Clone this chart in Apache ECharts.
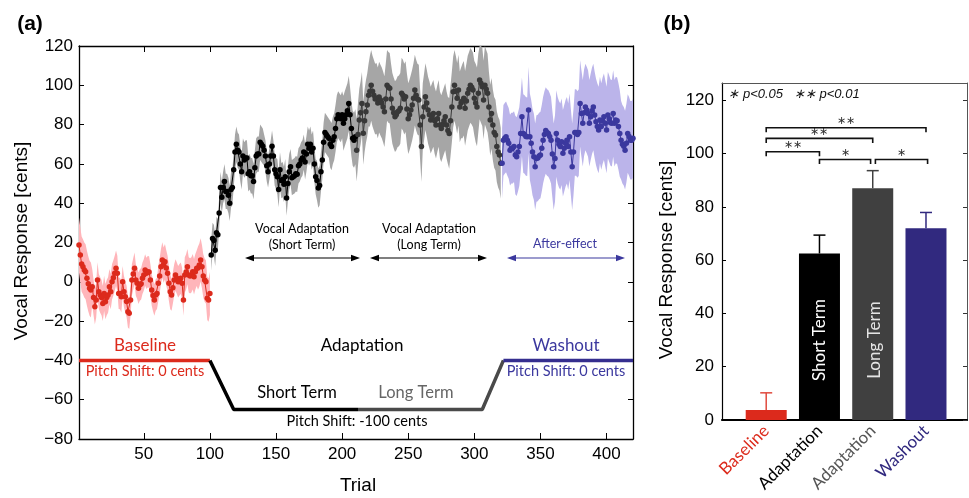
<!doctype html>
<html>
<head>
<meta charset="utf-8">
<title>Vocal adaptation</title>
<script src="https://cdn.jsdelivr.net/npm/echarts@6/dist/echarts.min.js"></script>
<style>
  html, body { margin: 0; padding: 0; background: #fff; }
  #main { width: 969px; height: 498px; }
</style>
</head>
<body>
<div id="main"></div>
<script type="text/javascript">
// panel (a): mean vocal response per trial, by phase
var baseline = [18.7, 13.6, 9, 7.7, 6, 5.1, 1.8, -1, -3.3, -4.2,
  -2.5, -8, -12.7, -9.3, 0.9, -5, -6.7, -8, -11, -5.9,
  -10.1, -8, -6.7, -2.5, -5, 0, 2, 4.3, 6.9, 4.3,
  -5.9, -6, -7.6, 0, -5, -7.6, -10, -15.2, -16, -9.3,
  0.9, 4, 6.9, 0.9, -0.8, -3.3, -1.6, -1, 1.8, 3.5,
  6, 4.3, 5.1, 5, 0.9, -4.2, -7, -9.3, -6.7, -5.9,
  -0.8, 3, 7.7, 11.1, 8.5, 10.2, 7, 4.3, -0.8, -5,
  -6.7, -3, 0.9, 3.5, 1.8, 0, 1, 1.8, -0.8, -9.3,
  3.5, 5, 7.7, 3.5, 3, 3.5, 5.1, 2.6, 5.1, 6.9,
  7, 8.5, 11.1, 7.7, 3, 0.9, 0, -8.4, -9.3, -5.9];
var shortTerm = [13.6, 22, 21, 16, 25, 24, 35, 48, 43, 48,
  51, 46, 46, 44, 40, 47, 48, 57, 66, 70,
  67, 66, 60, 56, 64, 62, 63, 63, 55, 56,
  54, 54, 51, 58, 64, 65, 65, 71, 70, 69,
  67, 64, 59, 56, 60, 64, 69, 64, 57, 55,
  53.5, 47, 57, 51.5, 52, 49.6, 53.5, 42.6, 50, 56,
  58.6, 53, 53.5, 54, 55, 54.7, 59, 60, 62, 63,
  66, 61, 65, 70, 68, 70, 66, 68, 60, 53.5,
  51.5, 47.7, 49, 56, 62, 71, 76, 75, 74, 73,
  70, 68.8, 72, 73.8, 78, 83, 85, 84, 83, 85,
  80.7, 83, 85, 87, 90.8, 85, 78, 73, 72, 73.8];
var longTerm = [67, 75, 82.3, 86, 90.8, 75.6, 82, 86.6, 90, 95,
  97, 100, 97, 95, 93, 93.4, 91, 94, 92.5, 91,
  89, 86.6, 93, 100, 99, 98.5, 93, 88.3, 86, 84,
  85, 86.6, 87, 88.3, 96, 95, 93, 94.2, 88, 83,
  85, 87.4, 90, 93.4, 97.6, 95, 93, 92.5, 79.8, 68.8,
  84, 89, 94.2, 91, 87.4, 85, 82.3, 84, 85.7, 82,
  79.8, 83, 85.7, 79.8, 78, 80, 82, 84, 79.8, 77,
  75.5, 82, 89, 96.7, 100, 97, 93.4, 97.6, 89, 91,
  92, 93.4, 88.3, 92, 96, 98, 100, 99, 97.6, 93.4,
  91, 89, 96, 102.7, 101, 99.3, 92.5, 100, 98, 96,
  89, 82.3, 85.7, 79.8, 76, 74.7, 68.8, 66, 64.5, 60.3];
var washout = [60.3, 72, 73, 73.8, 72, 70.5, 67, 68, 68, 68.8,
  64.5, 63.7, 66, 68.8, 75.5, 84, 75.5, 75, 74, 73.8,
  87.4, 73.8, 70.5, 66, 63.7, 58.6, 62.8, 63, 64, 64.5,
  68, 72, 75, 77, 76, 75.5, 74, 72, 65, 58.6,
  62.8, 75.5, 72, 70, 68.8, 71.3, 65.4, 68, 70.5, 72,
  68.8, 73.8, 66, 58.6, 66, 76, 76, 75, 76, 90.8,
  85.7, 80.7, 86, 89, 87.4, 85.7, 80.7, 84, 87, 89,
  84.9, 81.5, 79, 77.2, 82.3, 79, 82, 84, 80.7, 77.2,
  84.9, 83, 81, 80.7, 85.7, 80.7, 82.3, 82, 79, 75.5,
  72, 70, 69, 67, 70.5, 75.5, 74, 72, 72, 73];
// half width of the shaded band, one value per block of 10 trials
var spread = [14, 9, 9, 8, 8, 8, 9, 8, 9, 11,
  8, 9, 9, 9, 8, 9, 9, 9, 10, 12, 14,
  16, 18, 18, 18, 18, 17, 17, 18, 19, 20, 18,
  18, 20, 22, 22, 22, 22, 22, 22, 22, 20];
// pitch shift schematic
var shiftTrials = [1, 100, 118, 212, 306, 322, 420];
var shiftValues = [-40, -40, -65, -65, -65, -40, -40];
var xTicks = [50, 100, 150, 200, 250, 300, 350, 400];

// panel (b)
var barNames = ['Baseline', 'Adaptation', 'Adaptation', 'Washout'];
var barMeans = [3.8, 62.5, 87, 72];
var barTops = [10.2, 69.4, 93.6, 77.9];
var barColors = ['#dc2a1c', '#000000', '#404040', '#31297f'];
var labelColors = ['#dc2a1c', '#000000', '#555555', '#31297f'];
var brFrom = [1, 2, 3.05, 1, 1];
var brTo = [2, 2.96, 4.03, 3, 4];
var brY = [100.7, 97.8, 97.8, 105.7, 109.7];
var brStars = ['\u2217\u2217', '\u2217', '\u2217', '\u2217\u2217', '\u2217\u2217'];

var RED = '#dc2a1c', BLUE = '#3b389e';
var helv = 'Liberation Sans, Arial, sans-serif';
var myr = 'Lato, Open Sans, sans-serif';

function pairs(start, vals) {
  return vals.map(function (v, i) { return [start + i, v]; });
}
var adaptation = shortTerm.concat(longTerm);
var bands = [
  { start: 1, vals: baseline, color: '#ffb5ba' },
  { start: 101, vals: adaptation, color: '#a6a6a6' },
  { start: 321, vals: washout, color: '#bbb4ea' }
];
function shiftPart(a, b) {
  var out = [];
  for (var i = a; i <= b; i++) out.push([shiftTrials[i], shiftValues[i]]);
  return out;
}

var myChart = echarts.init(document.getElementById('main'));

function arrow(x1, x2, y, color) {
  return [
    { type: 'line', shape: { x1: x1 + 4, y1: y, x2: x2 - 4, y2: y }, style: { stroke: color, lineWidth: 1.2 } },
    { type: 'polygon', shape: { points: [[x1, y], [x1 + 9, y - 3.2], [x1 + 9, y + 3.2]] }, style: { fill: color } },
    { type: 'polygon', shape: { points: [[x2, y], [x2 - 9, y - 3.2], [x2 - 9, y + 3.2]] }, style: { fill: color } }
  ];
}
function txt(x, y, s, size, color, extra) {
  var st = { text: s, x: x, y: y, fill: color, fontSize: size, fontFamily: myr, align: 'center', verticalAlign: 'middle' };
  for (var k in extra) st[k] = extra[k];
  return { type: 'text', z: 50, style: st };
}

var graphics = [
  txt(30, 24, '(a)', 21, '#000', { fontFamily: helv, fontWeight: 'bold' }),
  txt(677, 24, '(b)', 21, '#000', { fontFamily: helv, fontWeight: 'bold' }),
  { type: 'text', x: 22, y: 241, rotation: Math.PI / 2,
    style: { text: 'Vocal Response [cents]', fill: '#000', fontSize: 19, fontFamily: helv, align: 'center', verticalAlign: 'middle' } },
  { type: 'text', x: 667, y: 260, rotation: Math.PI / 2,
    style: { text: 'Vocal Response [cents]', fill: '#000', fontSize: 19, fontFamily: helv, align: 'center', verticalAlign: 'middle' } },
  txt(358, 486, 'Trial', 19, '#000', { fontFamily: helv }),
  txt(145, 346, 'Baseline', 17, RED),
  txt(145, 371, 'Pitch Shift: 0 cents', 14.5, RED),
  txt(362, 346, 'Adaptation', 17, '#000'),
  txt(297, 393, 'Short Term', 16.5, '#000'),
  txt(416, 393, 'Long Term', 16.5, '#666'),
  txt(357, 421, 'Pitch Shift: -100 cents', 14.5, '#000'),
  txt(566, 346, 'Washout', 17, BLUE),
  txt(566, 371, 'Pitch Shift: 0 cents', 14.5, BLUE),
  txt(302, 229, 'Vocal Adaptation', 12.5, '#000'),
  txt(302, 245, '(Short Term)', 12.5, '#000'),
  txt(429, 229, 'Vocal Adaptation', 12.5, '#000'),
  txt(429, 245, '(Long Term)', 12.5, '#000'),
  txt(565, 244, 'After-effect', 12.5, BLUE),
  txt(794, 94, '\u2217 p<0.05   \u2217\u2217 p<0.01', 13, '#111', { fontFamily: helv, fontStyle: 'italic' }),
  { type: 'text', x: 820, y: 340, rotation: Math.PI / 2, z: 50,
    style: { text: 'Short Term', fill: '#fff', fontSize: 17, fontFamily: myr, align: 'center', verticalAlign: 'middle' } },
  { type: 'text', x: 874.5, y: 340, rotation: Math.PI / 2, z: 50,
    style: { text: 'Long Term', fill: '#e4e4e4', fontSize: 17, fontFamily: myr, align: 'center', verticalAlign: 'middle' } }
].concat(arrow(245, 360, 258, '#000'), arrow(370, 487, 258, '#000'), arrow(507, 625, 258, BLUE));

function frameAxis(grid, pos, type, extra) {
  var a = {
    gridIndex: grid, type: 'value', position: pos,
    axisLine: { show: true, onZero: false, lineStyle: { color: '#000', width: 1.3 } },
    axisTick: { show: true, inside: true, length: 5, lineStyle: { color: '#000', width: 1 } },
    axisLabel: { show: false },
    splitLine: { show: false }
  };
  for (var k in extra) a[k] = extra[k];
  return a;
}

var lineBase = { type: 'line', xAxisIndex: 0, yAxisIndex: 0, symbol: 'circle', symbolSize: 5.5,
  lineStyle: { width: 1 }, silent: true, z: 3 };
function lineSeries(start, vals, color) {
  var s = {};
  for (var k in lineBase) s[k] = lineBase[k];
  s.data = pairs(start, vals);
  s.itemStyle = { color: color };
  s.lineStyle = { width: 1, color: color };
  return s;
}
function shiftSeries(a, b, color) {
  return { type: 'line', xAxisIndex: 0, yAxisIndex: 0, data: shiftPart(a, b), showSymbol: false,
    lineStyle: { width: 3.5, color: color }, silent: true, z: 4 };
}

option = {
  animation: false,
  backgroundColor: '#fff',
  grid: [
    { left: 79, top: 46, width: 554, height: 393 },
    { left: 722, top: 83, width: 245, height: 337 }
  ],
  xAxis: [
    frameAxis(0, 'bottom', 'value', { min: 1, max: 420,
      axisTick: { show: true, inside: true, length: 6, customValues: xTicks, lineStyle: { color: '#000' } },
      axisLabel: { show: true, customValues: xTicks, color: '#000', fontSize: 17, fontFamily: helv, margin: 7 } }),
    frameAxis(0, 'top', 'value', { min: 1, max: 420,
      axisTick: { show: true, inside: true, length: 6, customValues: xTicks, lineStyle: { color: '#000' } } }),
    frameAxis(1, 'bottom', 'value', { min: 0.17, max: 4.77,
      axisLine: { show: true, onZero: false, lineStyle: { color: '#000', width: 2.2 } },
      axisTick: { show: false },
      axisLabel: { show: true, customValues: [1, 2, 3, 4], rotate: 45, margin: 8, fontSize: 17, fontFamily: myr,
        formatter: function (v) { return barNames[Math.round(v) - 1]; },
        color: function (v, i) { return labelColors[Math.round(v) - 1]; } } }),
    frameAxis(1, 'top', 'value', { min: 0.17, max: 4.77, axisTick: { show: false },
      axisLine: { show: true, onZero: false, lineStyle: { color: '#555', width: 1 } } })
  ],
  yAxis: [
    frameAxis(0, 'left', 'value', { min: -80, max: 120, interval: 20,
      axisLabel: { show: true, color: '#000', fontSize: 17, fontFamily: helv, margin: 6,
        formatter: function (v) { return String(v).replace('-', '\u2212'); } } }),
    frameAxis(0, 'right', 'value', { min: -80, max: 120, interval: 20 }),
    frameAxis(1, 'left', 'value', { min: 0, max: 126.5,
      axisLine: { show: true, onZero: false, lineStyle: { color: '#000', width: 1.2 } },
      axisTick: { show: true, inside: true, length: 4, customValues: [0, 20, 40, 60, 80, 100, 120], lineStyle: { color: '#000' } },
      axisLabel: { show: true, customValues: [0, 20, 40, 60, 80, 100, 120], color: '#000', fontSize: 17, fontFamily: helv, margin: 8 } }),
    frameAxis(1, 'right', 'value', { min: 0, max: 126.5,
      axisLine: { show: true, onZero: false, lineStyle: { color: '#555', width: 1 } },
      axisTick: { show: true, inside: true, length: 4, customValues: [0, 20, 40, 60, 80, 100, 120], lineStyle: { color: '#333' } } })
  ],
  graphic: { elements: graphics, z: 50 },
  series: [
    {
      type: 'custom', xAxisIndex: 0, yAxisIndex: 0, silent: true, z: 1,
      data: bands.map(function (b) { return [b.start, 0]; }),
      encode: { x: 0, y: 1 },
      renderItem: function (params, api) {
        var b = bands[params.dataIndex];
        var top = [], bot = [];
        b.vals.forEach(function (v, i) {
          var t = b.start + i;
          var s = spread[Math.floor((t - 1) / 10)];
          top.push(api.coord([t, Math.min(v + s, 120)]));
          bot.push(api.coord([t, Math.max(v - s, -80)]));
        });
        return { type: 'polygon', shape: { points: top.concat(bot.reverse()) }, style: { fill: b.color } };
      }
    },
    lineSeries(1, baseline, RED),
    lineSeries(101, shortTerm, '#000000'),
    lineSeries(211, longTerm, '#383838'),
    lineSeries(321, washout, BLUE),
    shiftSeries(0, 1, RED),
    shiftSeries(1, 3, '#000000'),
    shiftSeries(3, 5, '#4a4a4a'),
    shiftSeries(5, 6, '#352e8f'),
    {
      type: 'bar', xAxisIndex: 2, yAxisIndex: 2, barWidth: 41, silent: true, z: 2,
      data: barMeans.map(function (v, i) { return { value: [i + 1, v], itemStyle: { color: barColors[i] } }; })
    },
    {
      type: 'custom', xAxisIndex: 2, yAxisIndex: 2, silent: true, z: 3,
      data: barMeans.map(function (v, i) { return [i + 1, v, barTops[i]]; }),
      encode: { x: 0, y: [1, 2] },
      renderItem: function (params, api) {
        var i = params.dataIndex;
        var p0 = api.coord([api.value(0), api.value(1)]);
        var p1 = api.coord([api.value(0), api.value(2)]);
        var c = barColors[i] === '#dc2a1c' ? '#e04a3e' : barColors[i];
        return { type: 'group', children: [
          { type: 'line', shape: { x1: p0[0], y1: p0[1], x2: p1[0], y2: p1[1] }, style: { stroke: c, lineWidth: 1.5 } },
          { type: 'line', shape: { x1: p1[0] - 6, y1: p1[1], x2: p1[0] + 6, y2: p1[1] }, style: { stroke: c, lineWidth: 1.5 } }
        ] };
      }
    },
    {
      type: 'custom', xAxisIndex: 2, yAxisIndex: 2, silent: true, z: 3,
      data: brY.map(function (y, i) { return [brFrom[i], y]; }),
      encode: { x: 0, y: 1 },
      renderItem: function (params, api) {
        var i = params.dataIndex;
        var a = api.coord([brFrom[i], brY[i]]);
        var b = api.coord([brTo[i], brY[i]]);
        return { type: 'group', children: [
          { type: 'polyline', shape: { points: [[a[0], a[1] + 4.5], [a[0], a[1]], [b[0], b[1]], [b[0], b[1] + 4.5]] },
            style: { stroke: '#111', lineWidth: 1.6, fill: null } },
          { type: 'text', style: { text: brStars[i], x: (a[0] + b[0]) / 2, y: a[1] - 1, fill: '#333', fontSize: 11,
            fontFamily: helv, align: 'center', verticalAlign: 'bottom' } }
        ] };
      }
    }
  ]
};

myChart.setOption(option);
</script>
</body>
</html>
